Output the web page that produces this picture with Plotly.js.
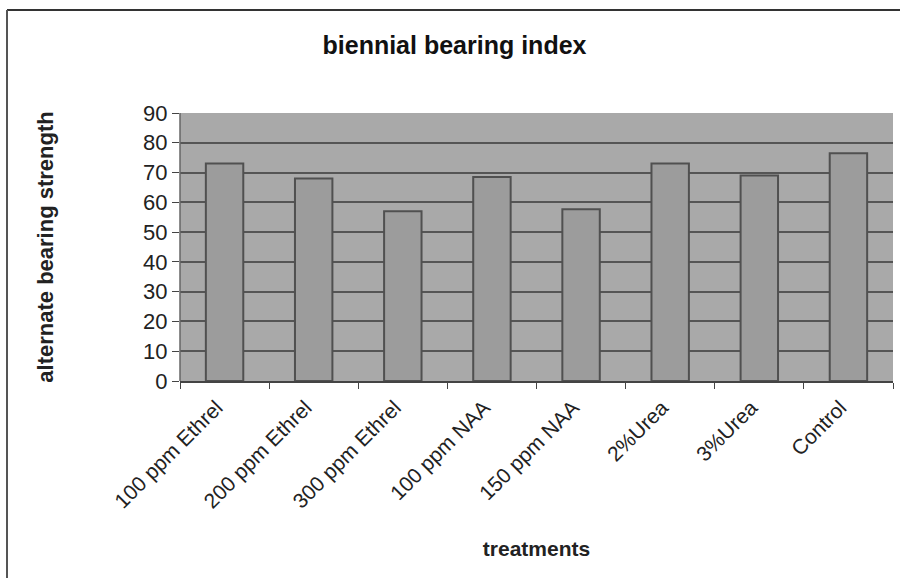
<!DOCTYPE html>
<html>
<head>
<meta charset="utf-8">
<script src="https://cdn.plot.ly/plotly-3.0.1.min.js"></script>
<style>
html,body{margin:0;padding:0;background:#fff;}
#chart{width:900px;height:578px;}
</style>
</head>
<body>
<div id="chart"></div>
<script>
const categories = ["100 ppm Ethrel","200 ppm Ethrel","300 ppm Ethrel","100 ppm NAA","150 ppm NAA","2%Urea","3%Urea","Control"];
const bearingStrength = [73, 68, 57, 68.5, 57.7, 73, 69, 76.5];
const yTicks = [0,10,20,30,40,50,60,70,80,90];

const W = 900, H = 578;
const m = {l:180, r:7, t:113, b:197};
const pw = W - m.l - m.r, ph = H - m.t - m.b;
const px = v => (v - m.l) / pw;
const py = v => (H - m.b - v) / ph;

const font = "Liberation Sans, Arial, sans-serif";

const trace = {
  type: "bar",
  x: categories,
  y: bearingStrength,
  marker: {color: "#9c9c9c", line: {color: "#505050", width: 2}},
  hoverinfo: "x+y"
};

const layout = {
  width: W, height: H,
  margin: m,
  paper_bgcolor: "#ffffff",
  plot_bgcolor: "#a9a9a9",
  bargap: 0.58,
  showlegend: false,
  title: {text: "<b>biennial bearing index</b>", x: 0.505, xref: "container", y: 0.922, yref: "container", yanchor: "middle",
          font: {family: font, size: 25, color: "#111"}},
  xaxis: {
    type: "category",
    tickangle: -45,
    tickfont: {family: font, size: 21, color: "#222"},
    ticks: "outside", ticklen: 6, tickcolor: "#444", tickson: "boundaries",
    ticklabelshift: -8, ticklabelstandoff: 4,
    showline: true, linecolor: "#444", linewidth: 2,
    showgrid: false,
    title: {text: "<b>treatments</b>", font: {family: font, size: 21, color: "#222"}, standoff: 30}
  },
  yaxis: {
    range: [0, 90],
    tickvals: yTicks,
    tickfont: {family: font, size: 22, color: "#222"},
    ticks: "outside", ticklen: 7, tickcolor: "#444",
    showgrid: true, gridcolor: "#555555", gridwidth: 2,
    zeroline: false,
    showline: false,
    title: {text: "<b>alternate bearing strength</b>", font: {family: font, size: 22, color: "#222"}, standoff: 83}
  },
  shapes: [
    {type: "line", xref: "paper", yref: "paper", x0: px(7), x1: px(900), y0: py(10), y1: py(10), line: {color: "#333", width: 2}},
    {type: "line", xref: "paper", yref: "paper", x0: px(7), x1: px(7), y0: py(10), y1: py(578), line: {color: "#555", width: 2}},
    {type: "line", xref: "paper", yref: "paper", x0: 0, x1: 0, y0: 0, y1: 1, line: {color: "#666", width: 1.5}, layer: "above"}
  ]
};

Plotly.newPlot("chart", [trace], layout, {displayModeBar: false, staticPlot: true});
</script>
</body>
</html>
